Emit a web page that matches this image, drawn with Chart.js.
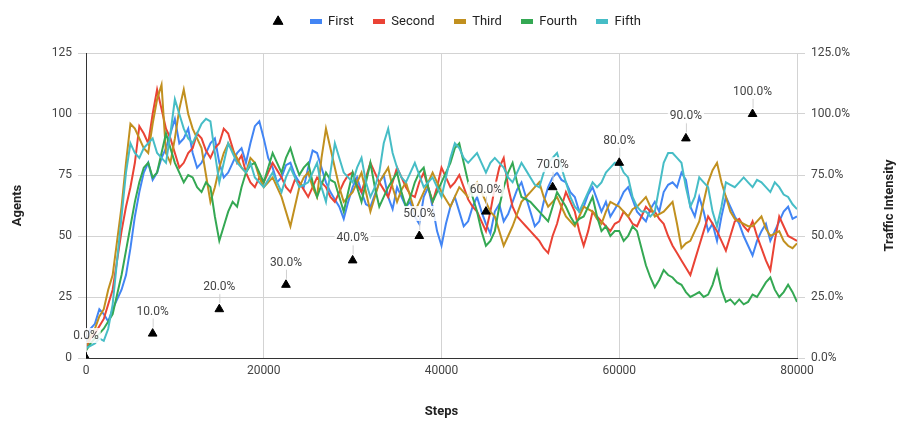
<!DOCTYPE html>
<html>
<head>
<meta charset="utf-8">
<script src="https://cdn.jsdelivr.net/npm/chart.js@4.4.1/dist/chart.umd.min.js"></script>
<style>
html, body { margin: 0; padding: 0; background: #fff; }
#wrap { width: 913px; height: 435px; position: relative; }
</style>
</head>
<body>
<div id="wrap"><canvas id="myChart"></canvas></div>
<script>
const ctx = document.getElementById('myChart');

// x positions (steps)
const steps = [0,500,1000,1500,2000,2500,3000,3500,4000,4500,
  5000,5500,6000,6500,7000,7500,8000,8500,9000,9500,
  10000,10500,11000,11500,12000,12500,13000,13500,14000,14500,
  15000,15500,16000,16500,17000,17500,18000,18500,19000,19500,
  20000,20500,21000,21500,22000,22500,23000,23500,24000,24500,
  25000,25500,26000,26500,27000,27500,28000,28500,29000,29500,
  30000,30500,31000,31500,32000,32500,33000,33500,34000,34500,
  35000,35500,36000,36500,37000,37500,38000,38500,39000,39500,
  40000,40500,41000,41500,42000,42500,43000,43500,44000,44500,
  45000,45500,46000,46500,47000,47500,48000,48500,49000,49500,
  50000,50500,51000,51500,52000,52500,53000,53500,54000,54500,
  55000,55500,56000,56500,57000,57500,58000,58500,59000,59500,
  60000,60500,61000,61500,62000,62500,63000,63500,64000,64500,
  65000,65500,66000,66500,67000,67500,68000,68500,69000,69500,
  70000,70500,71000,71500,72000,72500,73000,73500,74000,74500,
  75000,75500,76000,76500,77000,77500,78000,78500,79000,79500,
  80000];

const first = [6,12,14,20,18,15,20,24,28,34,
  45,58,68,76,80,73,76,82,86,92,
  98,88,90,94,84,78,80,84,88,90,
  80,74,76,80,84,86,80,88,95,97,
  90,82,78,72,74,79,80,75,72,70,
  78,85,84,78,72,68,65,62,57,64,
  70,74,68,63,62,67,72,75,66,61,
  70,66,62,64,58,55,66,70,62,52,
  46,55,62,66,60,54,56,62,66,60,
  55,51,60,63,56,59,64,69,72,66,
  60,54,56,64,70,74,76,73,72,68,
  66,60,62,67,70,65,60,64,58,61,
  64,68,70,65,60,58,56,61,64,60,
  68,71,72,70,76,73,62,58,66,60,
  52,55,48,58,66,62,58,55,50,46,
  42,48,52,55,48,52,56,60,62,57,
  58];

const second = [4,8,10,13,16,22,28,40,52,62,
  70,80,95,92,88,100,110,102,94,90,
  84,78,80,84,86,92,90,85,82,86,
  88,94,92,86,80,83,76,72,70,74,
  72,76,80,77,74,70,68,73,72,69,
  66,70,74,72,70,66,64,68,72,75,
  76,71,68,74,80,76,72,69,66,72,
  78,74,70,67,66,72,76,70,64,70,
  78,74,70,72,75,70,65,62,60,56,
  52,60,70,78,82,70,62,58,56,54,
  52,50,48,45,43,50,55,62,68,64,
  60,52,46,52,60,58,56,54,52,55,
  56,60,58,55,54,58,62,60,60,57,
  55,50,46,43,40,37,34,40,46,52,
  58,55,52,48,44,50,56,57,54,52,
  56,50,45,40,36,48,58,54,50,49,
  48];

const third = [5,9,12,17,20,28,34,48,62,80,
  96,94,90,86,84,96,106,112,84,80,
  90,102,110,100,94,90,86,75,64,70,
  78,84,88,85,82,78,76,82,80,74,
  70,72,74,70,66,60,54,62,70,74,
  76,70,66,82,94,86,78,70,64,66,
  68,72,76,68,60,66,72,75,78,70,
  64,69,72,66,60,64,68,72,76,72,
  68,65,62,66,70,68,66,70,72,68,
  64,60,58,52,46,50,54,59,64,66,
  68,70,72,66,62,64,66,62,58,56,
  54,58,62,61,60,57,55,60,64,63,
  62,60,58,61,62,64,66,62,58,59,
  60,62,64,55,45,47,48,52,56,64,
  72,77,80,72,66,60,57,56,55,54,
  54,56,58,53,50,51,52,48,46,45,
  47];

const fourth = [3,6,8,10,12,15,18,26,34,44,
  54,64,72,78,80,74,76,84,92,86,
  80,76,72,75,74,70,68,72,70,58,
  48,54,60,64,62,70,76,79,80,76,
  72,78,84,80,76,82,86,80,75,78,
  80,72,66,71,76,73,72,66,60,68,
  76,70,64,72,80,70,62,66,70,73,
  76,68,62,66,72,76,78,70,64,68,
  72,76,80,86,88,80,72,66,60,52,
  46,48,52,62,70,76,80,72,66,65,
  64,62,60,58,56,62,68,65,62,58,
  55,57,58,62,66,58,52,54,50,52,
  52,48,50,54,52,45,38,33,29,32,
  36,34,33,31,30,27,25,26,27,25,
  26,30,36,28,23,24,22,24,22,23,
  26,25,28,31,33,28,25,27,30,27,
  23];

const fifth = [4,5,6,8,7,12,22,40,58,76,
  88,84,82,86,88,90,84,82,80,92,
  106,100,94,90,88,92,96,98,97,84,
  72,80,88,84,80,78,76,80,74,72,
  70,73,76,72,68,74,78,74,70,71,
  72,76,80,70,64,76,88,82,76,74,
  72,78,82,72,66,70,76,88,94,84,
  78,74,72,76,80,75,70,72,74,70,
  66,74,82,88,86,82,80,82,84,80,
  76,80,82,80,78,74,72,76,80,77,
  74,71,70,76,80,82,84,78,72,66,
  62,60,64,68,72,70,72,76,78,80,
  80,76,74,66,62,60,60,58,60,70,
  80,84,84,82,80,70,62,66,74,72,
  70,60,54,62,72,71,70,72,74,72,
  70,73,72,70,68,72,70,67,66,63,
  61];

// traffic intensity markers
const intensitySteps = [0,7500,15000,22500,30000,37500,45000,52500,60000,67500,75000];
const intensityValues = [0,10,20,30,40,50,60,70,80,90,100];

const seriesNames = ['First','Second','Third','Fourth','Fifth'];
const seriesColors = ['#4285f4','#ea4335','#c1901f','#34a853','#46bdc6'];
const seriesData = [first, second, third, fourth, fifth];

function swatch(color) {
    const c = document.createElement('canvas');
    c.width = 12; c.height = 5;
    const g = c.getContext('2d');
    g.fillStyle = color;
    g.fillRect(0, 0, 12, 5);
    return c;
}

const datasets = [{
    label: '',
    data: intensitySteps.map((s, i) => ({x: s, y: intensityValues[i]})),
    yAxisID: 'y2',
    showLine: false,
    pointStyle: 'triangle',
    pointRadius: 5,
    pointHoverRadius: 5,
    backgroundColor: '#000',
    borderColor: '#000',
    order: 0
}];
seriesData.forEach((vals, k) => {
    datasets.push({
        label: seriesNames[k],
        data: steps.map((s, i) => ({x: s, y: vals[i]})),
        yAxisID: 'y',
        borderColor: seriesColors[k],
        backgroundColor: seriesColors[k],
        borderWidth: 2,
        pointRadius: 0,
        tension: 0,
        order: 5 - k
    });
});

// make room under the legend
const legendSpace = {
    id: 'legendSpace',
    beforeUpdate(chart) {
        if (chart.legend && !chart.legend._patched) {
            const fit = chart.legend.fit;
            chart.legend.fit = function () {
                fit.call(this);
                this.height = 57;
            };
            chart.legend._patched = true;
        }
    }
};

const annotate = {
    id: 'annotate',
    afterDatasetsDraw(chart) {
        const c = chart.ctx;
        const meta = chart.getDatasetMeta(0);
        c.save();
        c.font = '12px Roboto';
        c.textAlign = 'center';
        c.textBaseline = 'middle';
        meta.data.forEach((pt, i) => {
            const txt = intensityValues[i].toFixed(1) + '%';
            const w = c.measureText(txt).width;
            c.strokeStyle = '#d0d0d0';
            c.lineWidth = 1;
            c.beginPath();
            c.moveTo(pt.x + 0.5, pt.y - 6);
            c.lineTo(pt.x + 0.5, pt.y - 16);
            c.stroke();
            c.fillStyle = 'rgba(255,255,255,0.85)';
            c.fillRect(pt.x - w / 2 - 2, pt.y - 30, w + 4, 15);
            c.fillStyle = '#444';
            c.fillText(txt, pt.x, pt.y - 22);
        });
        const a = chart.chartArea;
        c.translate(890, (a.top + a.bottom) / 2);
        c.rotate(-Math.PI / 2);
        c.font = 'bold 13px Roboto';
        c.fillStyle = '#222';
        c.fillText('Traffic Intensity', 0, 0);
        c.restore();
    }
};

const chart = new Chart(ctx, {
    type: 'line',
    data: { datasets: datasets },
    options: {
        responsive: true,
        maintainAspectRatio: false,
        animation: false,
        layout: { padding: { top: -4, left: 0, right: 0, bottom: 0 } },
        plugins: {
            tooltip: { enabled: false },
            legend: {
                position: 'top',
                labels: {
                    usePointStyle: true,
                    boxWidth: 12,
                    boxHeight: 8,
                    padding: 19,
                    color: '#222',
                    font: { family: 'Roboto', size: 13 },
                    sort: (a, b) => a.datasetIndex - b.datasetIndex,
                    generateLabels(chart) {
                        const items = Chart.defaults.plugins.legend.labels.generateLabels(chart);
                        items.forEach((it) => {
                            const i = it.datasetIndex;
                            if (i === 0) {
                                it.pointStyle = 'triangle';
                                it.fillStyle = '#000';
                                it.strokeStyle = '#000';
                            } else {
                                it.pointStyle = swatch(seriesColors[i - 1]);
                            }
                        });
                        return items;
                    }
                }
            }
        },
        scales: {
            x: {
                type: 'linear',
                min: 0,
                max: 80000,
                afterFit(scale) { scale.height = 77; },
                ticks: {
                    stepSize: 20000,
                    padding: 6,
                    color: '#444',
                    font: { family: 'Roboto', size: 12 },
                    maxRotation: 0,
                    callback: (v) => String(v)
                },
                grid: { color: '#d3d3d3', drawTicks: false },
                border: { color: '#333', width: 1 },
                title: {
                    display: true,
                    text: 'Steps',
                    color: '#222',
                    font: { family: 'Roboto', size: 13, weight: 'bold' },
                    padding: { top: 4, bottom: 15 }
                }
            },
            y: {
                position: 'left',
                min: 0,
                max: 125,
                afterFit(scale) { scale.width = 86; },
                ticks: {
                    stepSize: 25,
                    padding: 6,
                    color: '#444',
                    font: { family: 'Roboto', size: 12 }
                },
                grid: { color: '#d3d3d3', tickLength: 8 },
                border: { color: '#333', width: 1 },
                title: {
                    display: true,
                    text: 'Agents',
                    color: '#222',
                    font: { family: 'Roboto', size: 13, weight: 'bold' },
                    padding: { top: 10, bottom: 4 }
                }
            },
            y2: {
                position: 'right',
                min: 0,
                max: 125,
                afterFit(scale) { scale.width = 116; },
                ticks: {
                    stepSize: 25,
                    padding: 6,
                    color: '#444',
                    font: { family: 'Roboto', size: 12 },
                    callback: (v) => v.toFixed(1) + '%'
                },
                grid: { drawOnChartArea: false, color: '#d3d3d3', tickLength: 8 },
                border: { display: false }
            }
        }
    },
    plugins: [legendSpace, annotate]
});
</script>
</body>
</html>
